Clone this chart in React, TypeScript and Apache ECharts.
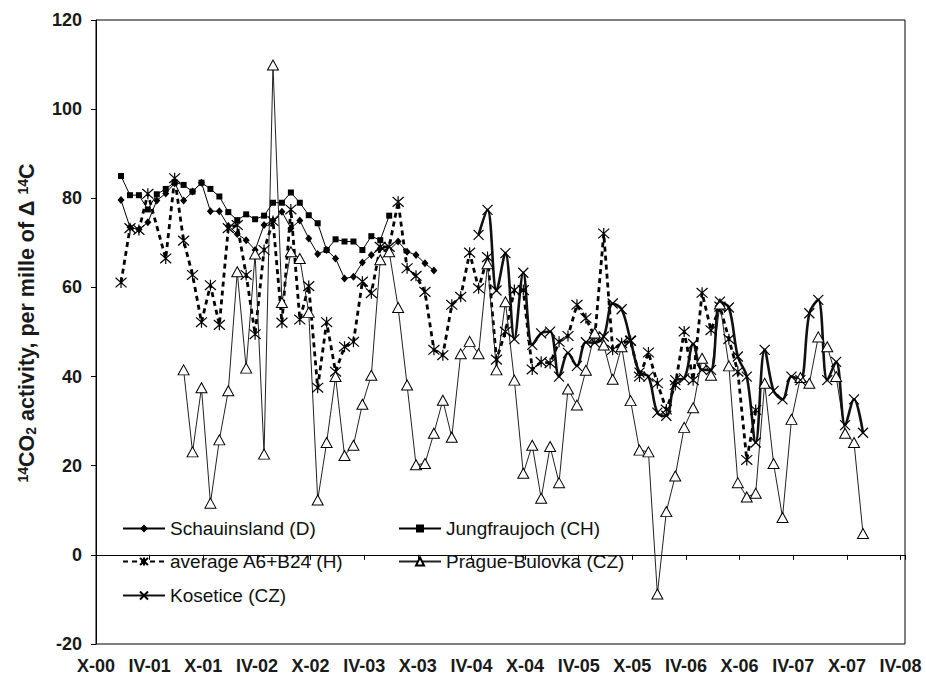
import React, { useEffect, useRef } from 'react';
import * as echarts from 'echarts';

// x axis: months since October 2000 (tick every 6 months)
const tickLabels = ['X-00', 'IV-01', 'X-01', 'IV-02', 'X-02', 'IV-03', 'X-03', 'IV-04', 'X-04', 'IV-05', 'X-05', 'IV-06', 'X-06', 'IV-07', 'X-07', 'IV-08'];
const MONTH_OFFSET = 0.8; // samples sit near the end of each month

const schauinslandStart = 2;
const schauinsland = [79.6, 73.5, 73.0, 74.6, 79.5, 81.1, 83.4, 79.5, 81.5, 83.5, 77.1, 77.1, 73.8, 72.0, 70.6, 68.4, 74.0, 75.0, 77.0, 73.3, 75.0, 71.0, 67.5, 68.4, 66.5, 62.0, 62.4, 65.6, 67.3, 68.8, 68.4, 70.3, 68.0, 67.3, 65.4, 63.8];

const jungfraujochStart = 2;
const jungfraujoch = [85.0, 80.7, 80.7, 77.5, 80.9, 82.1, 83.6, 83.0, 81.5, 83.5, 82.1, 80.4, 76.9, 75.1, 76.4, 75.3, 76.1, 79.0, 79.0, 81.3, 79.0, 76.2, 74.4, 68.4, 70.8, 70.3, 70.3, 68.4, 71.5, 70.6, 76.1];

const averageStart = 2;
const average = [61.1, 73.3, 72.9, 81.0, null, 66.5, 84.5, 70.5, 62.8, 52.2, 60.5, 51.6, 73.3, 74.0, 62.8, 49.5, 68.4, 74.9, 52.1, 77.5, 52.8, 60.3, 37.5, 52.2, 41.1, 46.7, 47.8, 61.3, 58.7, 69.1, 69.1, 79.2, 64.3, 62.6, 59.0, 46.0, 44.8, 56.1, 57.9, 67.8, 59.8, 66.8, 43.8, 50.1, 59.4, 59.4, 41.6, 43.3, 43.0, 47.8, 49.1, 56.1, 53.1, 48.9, 72.1, 46.0, 47.5, 48.0, 40.0, 45.4, 38.5, 32.6, 38.1, 50.1, 39.2, 58.8, 50.4, 55.7, 48.4, 41.1, 21.3, 32.5];

const pragueStart = 9;
const prague = [41.5, 23.1, 37.5, 11.6, 25.8, 36.8, 63.5, 41.9, 67.5, 22.6, 109.9, 56.6, 68.0, 66.5, 54.4, 12.3, 25.2, 40.0, 22.3, 24.6, 33.8, 40.3, 66.2, 68.0, 55.5, 38.1, 20.2, 20.5, 27.3, 34.7, 26.4, 45.1, 47.9, 45.1, 65.3, 41.5, 56.8, 39.2, 18.3, 24.6, 12.7, 24.3, 16.2, 37.2, 33.6, 41.4, 49.8, 47.1, 39.4, 46.7, 34.6, 23.5, 23.1, -8.8, 9.7, 17.7, 28.6, 33.0, 44.1, 40.3, 56.3, 42.4, 16.2, 13.0, 13.8, 38.5, 20.5, 8.4, 30.4, 39.8, 38.5, 48.9, 46.7, 40.0, 27.3, 25.2, 4.8];

const koseticeStart = 42;
const kosetice = [71.8, 77.4, 59.3, 67.7, 48.4, 63.3, 47.1, 49.7, 50.1, 40.0, 45.3, 42.4, 47.7, 47.6, 49.0, 56.4, 55.1, 48.1, 40.9, 40.0, 31.9, 31.2, 39.2, 39.6, 47.3, 41.5, 41.5, 56.8, 55.5, 44.5, 40.0, 25.2, 46.0, 36.8, 34.9, 40.0, 39.2, 54.2, 57.2, 39.2, 43.3, 29.1, 34.9, 27.4];

const FONT = 'Liberation Sans, Arial, sans-serif';
const INK = '#1a1a1a';

function toPoints(start: number, values: (number | null)[]) {
  return values.map((v, i) => [start + i + MONTH_OFFSET, v]);
}

const STAR = 'path://M5,0L5,10M0.6,0.6L9.4,9.4M0.6,9.4L9.4,0.6';
const CROSS = 'path://M0,0L10,10M0,10L10,0';

export default function App() {
  const ref = useRef<HTMLDivElement>(null);
  useEffect(() => {
    if (!ref.current) return;
    const chart = echarts.init(ref.current, null, { renderer: 'svg' });
    const legendBase = {
      orient: 'horizontal',
      itemWidth: 42,
      itemHeight: 10,
      itemGap: 0,
      padding: 0,
      selectedMode: false,
      textStyle: { fontSize: 19, fontFamily: FONT, color: '#111' },
    };
    const option: any = {
      animation: false,
      backgroundColor: '#fff',
      grid: { left: 96, top: 20, right: 21, bottom: 32, show: true, borderColor: '#000', borderWidth: 1 },
      xAxis: {
        type: 'value',
        min: 0,
        max: 90.5,
        interval: 6,
        splitLine: { show: false },
        axisLine: { lineStyle: { color: '#000', width: 1 } },
        axisTick: { show: true, length: 5, lineStyle: { color: '#000' } },
        axisLabel: {
          margin: 13,
          fontSize: 18,
          fontWeight: 'bold',
          fontFamily: FONT,
          color: INK,
          showMinLabel: true,
          formatter: (v: number) => {
            const i = Math.round(v / 6);
            return Math.abs(v - i * 6) < 1e-6 && i < tickLabels.length ? tickLabels[i] : '';
          },
        },
      },
      yAxis: {
        type: 'value',
        min: -20,
        max: 120,
        interval: 20,
        splitLine: { show: false },
        axisLine: { show: true, lineStyle: { color: '#000', width: 1 } },
        axisTick: { show: true, length: 5, lineStyle: { color: '#000' } },
        axisLabel: { margin: 14, fontSize: 18, fontWeight: 'bold', fontFamily: FONT, color: INK },
      },
      legend: [
        { ...legendBase, data: ['Schauinsland (D)'], left: 122, top: 519 },
        { ...legendBase, data: ['Jungfraujoch (CH)'], left: 398, top: 519 },
        { ...legendBase, data: ['average A6+B24 (H)'], left: 122, top: 552 },
        { ...legendBase, data: ['Prague-Bulovka (CZ)'], left: 398, top: 552 },
        { ...legendBase, data: ['Kosetice (CZ)'], left: 122, top: 586 },
      ],
      graphic: [
        {
          type: 'text',
          x: 27,
          y: 323,
          rotation: Math.PI / 2,
          style: {
            text: '{sup|14}{b|CO}{sub|2}{b| activity, per mille of Δ }{sup|14}{b|C}',
            align: 'center',
            verticalAlign: 'middle',
            fill: INK,
            rich: {
              b: { fontSize: 21.5, fontWeight: 'bold', fontFamily: FONT, fill: INK, verticalAlign: 'bottom' },
              sup: { fontSize: 14, fontWeight: 'bold', fontFamily: FONT, fill: INK, verticalAlign: 'top' },
              sub: { fontSize: 14, fontWeight: 'bold', fontFamily: FONT, fill: INK, verticalAlign: 'bottom' },
            },
          },
        },
      ],
      series: [
        {
          name: 'Schauinsland (D)',
          type: 'line',
          data: toPoints(schauinslandStart, schauinsland),
          symbol: 'diamond',
          symbolSize: [7, 8],
          color: '#000',
          lineStyle: { color: '#000', width: 1 },
          itemStyle: { color: '#000' },
        },
        {
          name: 'Jungfraujoch (CH)',
          type: 'line',
          data: toPoints(jungfraujochStart, jungfraujoch),
          symbol: 'rect',
          symbolSize: 6,
          color: '#000',
          lineStyle: { color: '#000', width: 1 },
          itemStyle: { color: '#000' },
        },
        {
          name: 'average A6+B24 (H)',
          type: 'line',
          data: toPoints(averageStart, average),
          connectNulls: true,
          symbol: STAR,
          symbolSize: 11,
          color: '#000',
          lineStyle: { color: '#000', width: 2.8, type: [5, 4] },
          itemStyle: { color: '#000', borderColor: '#000', borderWidth: 1.2 },
        },
        {
          name: 'Prague-Bulovka (CZ)',
          type: 'line',
          data: toPoints(pragueStart, prague),
          symbol: 'triangle',
          symbolSize: [11, 10],
          color: '#000',
          lineStyle: { color: '#222', width: 1 },
          itemStyle: { color: '#fff', borderColor: '#000', borderWidth: 1 },
        },
        {
          name: 'Kosetice (CZ)',
          type: 'line',
          data: toPoints(koseticeStart, kosetice),
          smooth: 0.35,
          symbol: CROSS,
          symbolSize: 10,
          color: '#000',
          lineStyle: { color: '#111', width: 2.6 },
          itemStyle: { color: '#000', borderColor: '#000', borderWidth: 1.2 },
        },
      ],
    };
    chart.setOption(option);
    return () => chart.dispose();
  }, []);
  return <div ref={ref} style={{ position: 'absolute', left: 0, top: 0, width: 926, height: 676 }} />;
}
